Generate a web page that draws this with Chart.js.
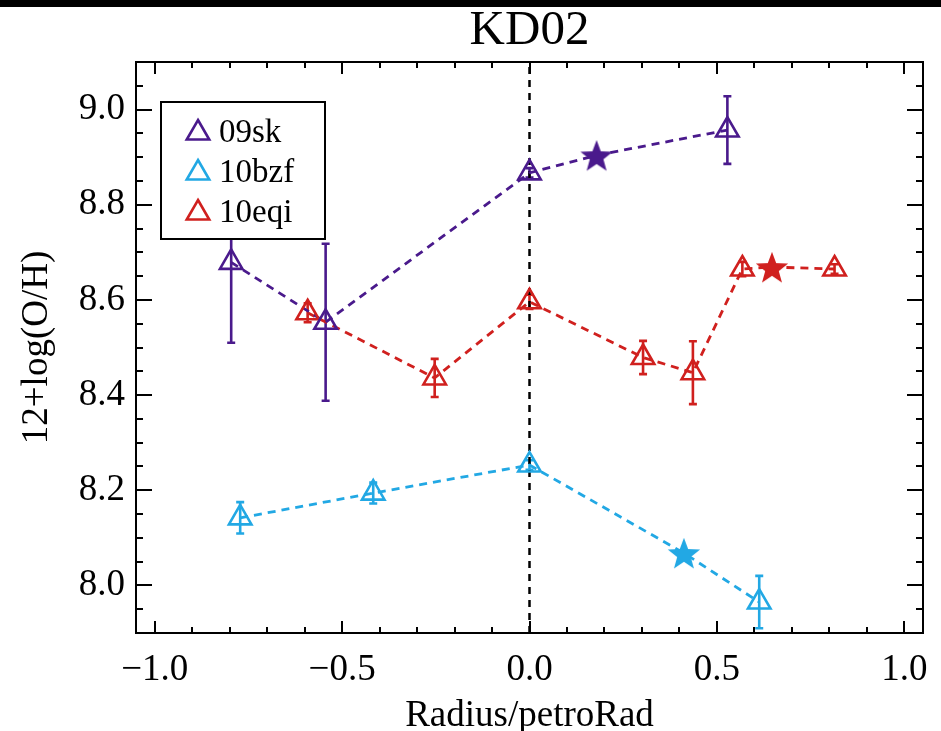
<!DOCTYPE html>
<html>
<head>
<meta charset="utf-8">
<script src="https://cdn.jsdelivr.net/npm/chart.js@4.4.1/dist/chart.umd.min.js"></script>
<style>
  html, body { margin: 0; padding: 0; background: #fff; }
</style>
</head>
<body>
<canvas id="kd02" width="941" height="731"></canvas>
<script>
const seriesNames = ['09sk', '10bzf', '10eqi'];
const seriesColors = ['#4a1a8c', '#22a8e4', '#d0201e'];

// HII region abundances (triangles), radius in units of petroRad
const radius09sk = [-0.796, -0.544, 0.0, 0.528];
const oh09sk = [8.679, 8.553, 8.867, 8.957];
const err09sk = [0.169, 0.165, 0.01, 0.071];

const radius10bzf = [-0.772, -0.417, 0.0, 0.613];
const oh10bzf = [8.142, 8.194, 8.253, 7.965];
const err10bzf = [0.033, 0.022, 0.01, 0.055];

const radius10eqi = [-0.592, -0.253, 0.0, 0.303, 0.436, 0.568, 0.814];
const oh10eqi = [8.573, 8.436, 8.596, 8.479, 8.447, 8.665, 8.665];
const err10eqi = [0.02, 0.04, 0.015, 0.035, 0.066, 0.015, 0.01];

// SN sites (stars), same order as seriesNames
const snRadius = [0.179, 0.412, 0.647];
const snOH = [8.904, 8.068, 8.669];

const xTicks = [-1.0, -0.5, 0.0, 0.5, 1.0];
const yTicks = [8.0, 8.2, 8.4, 8.6, 8.8, 9.0];
const xMin = -1.05, xMax = 1.05;
const yMin = 7.9, yMax = 9.1;

const serif = "'Liberation Serif', 'Times New Roman', serif";

const regions = [
  [radius09sk, oh09sk, err09sk],
  [radius10bzf, oh10bzf, err10bzf],
  [radius10eqi, oh10eqi, err10eqi]
];

function starImage(color, outer) {
  const c = document.createElement('canvas');
  const size = Math.ceil(outer * 2 + 2);
  c.width = c.height = size;
  const g = c.getContext('2d');
  g.translate(size / 2, size / 2 + outer * 0.1);
  g.beginPath();
  for (let k = 0; k < 10; k++) {
    const r = k % 2 ? outer * 0.42 : outer;
    const a = -Math.PI / 2 + k * Math.PI / 5;
    g.lineTo(r * Math.cos(a), r * Math.sin(a));
  }
  g.closePath();
  g.fillStyle = color;
  g.fill();
  return c;
}

const datasets = [];

// dashed line at r = 0
datasets.push({
  data: [{ x: 0, y: yMin }, { x: 0, y: yMax }],
  showLine: true,
  borderColor: '#000',
  borderWidth: 2.5,
  borderDash: [7, 6],
  pointRadius: 0,
  order: 3
});

seriesNames.forEach((name, i) => {
  const [rr, oh, err] = regions[i];
  const pts = rr.map((r, k) => ({ x: r, y: oh[k] }));
  const site = { x: snRadius[i], y: snOH[i] };
  const path = pts.concat([site]).sort((a, b) => a.x - b.x);
  const color = seriesColors[i];

  datasets.push({
    data: path,
    showLine: true,
    borderColor: color,
    borderWidth: 2.8,
    borderDash: [8, 6],
    pointRadius: 0,
    order: 2
  });
  datasets.push({
    label: name,
    data: pts,
    errors: err,
    showLine: false,
    pointStyle: 'triangle',
    pointRadius: 13,
    borderColor: color,
    backgroundColor: 'rgba(0,0,0,0)',
    pointBorderWidth: 2.6,
    order: 1
  });
  datasets.push({
    data: [site],
    showLine: false,
    pointStyle: starImage(color, 17),
    pointRadius: 17,
    borderColor: color,
    backgroundColor: color,
    order: 1
  });
});

const page = {
  id: 'page',
  beforeDraw(chart) {
    const { ctx, width } = chart;
    ctx.save();
    ctx.fillStyle = '#fff';
    ctx.fillRect(0, 0, width, chart.height);
    ctx.fillStyle = '#000';
    ctx.fillRect(0, 0, width, 7);
    ctx.restore();
  }
};

const errorBars = {
  id: 'errorBars',
  beforeDatasetsDraw(chart) {
    const { ctx, chartArea: a, scales: { x, y } } = chart;
    ctx.save();
    ctx.beginPath();
    ctx.rect(a.left, a.top, a.right - a.left, a.bottom - a.top);
    ctx.clip();
    chart.data.datasets.forEach(ds => {
      if (!ds.errors) return;
      ctx.strokeStyle = ds.borderColor;
      ctx.lineWidth = 2.6;
      ds.data.forEach((p, k) => {
        const e = ds.errors[k];
        const px = x.getPixelForValue(p.x);
        const top = y.getPixelForValue(p.y + e);
        const bot = y.getPixelForValue(p.y - e);
        ctx.beginPath();
        ctx.moveTo(px, top); ctx.lineTo(px, bot);
        ctx.moveTo(px - 4, top); ctx.lineTo(px + 4, top);
        ctx.moveTo(px - 4, bot); ctx.lineTo(px + 4, bot);
        ctx.stroke();
      });
    });
    ctx.restore();
  }
};

// box around the plot with inward ticks on all four sides
const frameTicks = {
  id: 'frameTicks',
  afterDatasetsDraw(chart) {
    const { ctx, chartArea: a, scales: { x, y } } = chart;
    ctx.save();
    ctx.strokeStyle = '#000';
    ctx.lineWidth = 2;
    ctx.strokeRect(a.left, a.top, a.right - a.left, a.bottom - a.top);
    ctx.beginPath();
    for (let k = -10; k <= 10; k++) {
      const px = Math.round(x.getPixelForValue(k / 10));
      const len = k % 5 === 0 ? 12 : 6;
      ctx.moveTo(px, a.bottom); ctx.lineTo(px, a.bottom - len);
      ctx.moveTo(px, a.top); ctx.lineTo(px, a.top + len);
    }
    for (let k = 159; k <= 181; k++) {
      const py = Math.round(y.getPixelForValue(k * 0.05));
      const len = k % 4 === 0 ? 16 : 7;
      ctx.moveTo(a.left, py); ctx.lineTo(a.left + len, py);
      ctx.moveTo(a.right, py); ctx.lineTo(a.right - len, py);
    }
    ctx.stroke();
    ctx.restore();
  }
};

const boxLegend = {
  id: 'boxLegend',
  afterDraw(chart) {
    const { ctx, chartArea: a } = chart;
    const left = a.left + 25, top = a.top + 40;
    ctx.save();
    ctx.fillStyle = '#fff';
    ctx.fillRect(left, top, 164, 137);
    ctx.strokeStyle = '#000';
    ctx.lineWidth = 2;
    ctx.strokeRect(left, top, 164, 137);
    seriesNames.forEach((name, i) => {
      const cx = left + 37, cy = top + 31 + i * 40, r = 13;
      ctx.beginPath();
      ctx.moveTo(cx, cy - r);
      ctx.lineTo(cx + r * Math.sin(2 * Math.PI / 3), cy - r * Math.cos(2 * Math.PI / 3));
      ctx.lineTo(cx + r * Math.sin(4 * Math.PI / 3), cy - r * Math.cos(4 * Math.PI / 3));
      ctx.closePath();
      ctx.strokeStyle = seriesColors[i];
      ctx.lineWidth = 2.6;
      ctx.stroke();
      ctx.fillStyle = '#000';
      ctx.font = '33px ' + serif;
      ctx.textBaseline = 'middle';
      ctx.textAlign = 'left';
      ctx.fillText(name, left + 58, cy);
    });
    ctx.restore();
  }
};

const fmt = v => (v < 0 ? '\u2212' + Math.abs(v).toFixed(1) : v.toFixed(1));

new Chart(document.getElementById('kd02'), {
  type: 'scatter',
  data: { datasets: datasets },
  plugins: [page, errorBars, frameTicks, boxLegend],
  options: {
    responsive: false,
    animation: false,
    layout: { padding: { left: 0, right: 12, top: 0, bottom: 0 } },
    plugins: {
      legend: { display: false },
      tooltip: { enabled: false },
      title: {
        display: true,
        text: 'KD02',
        color: '#000',
        fullSize: false,
        font: { family: serif, size: 49, weight: 'normal', lineHeight: 1 },
        padding: { top: 7, bottom: 6 }
      }
    },
    scales: {
      x: {
        type: 'linear',
        min: xMin,
        max: xMax,
        afterBuildTicks: s => { s.ticks = xTicks.map(v => ({ value: v })); },
        afterFit: s => { s.height = 98; s.paddingLeft = 0; s.paddingRight = 0; },
        grid: { display: false, drawTicks: false },
        border: { display: false },
        ticks: {
          color: '#000',
          padding: 15,
          autoSkip: false,
          maxRotation: 0,
          font: { family: serif, size: 37 },
          callback: fmt
        },
        title: {
          display: true,
          text: 'Radius/petroRad',
          color: '#000',
          font: { family: serif, size: 37, lineHeight: 0.8 },
          padding: { top: 0, bottom: 0 }
        }
      },
      y: {
        type: 'linear',
        min: yMin,
        max: yMax,
        afterBuildTicks: s => { s.ticks = yTicks.map(v => ({ value: v })); },
        afterFit: s => { s.width = 136; s.paddingTop = 0; s.paddingBottom = 0; },
        grid: { display: false, drawTicks: false },
        border: { display: false },
        ticks: {
          color: '#000',
          padding: 11,
          autoSkip: false,
          font: { family: serif, size: 37 },
          callback: fmt
        },
        title: {
          display: true,
          text: '12+log(O/H)',
          color: '#000',
          font: { family: serif, size: 37, lineHeight: 0.8 },
          padding: { top: 22, bottom: 0 }
        }
      }
    }
  }
});
</script>
</body>
</html>
